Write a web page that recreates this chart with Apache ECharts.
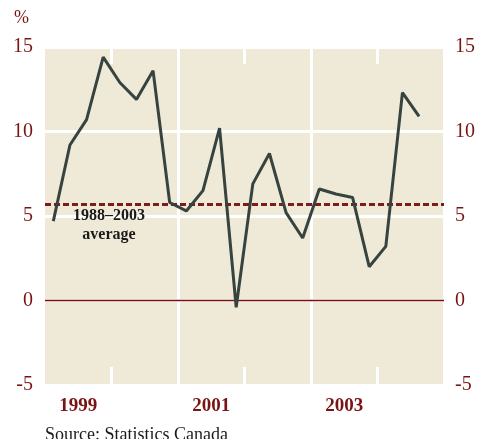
<!DOCTYPE html>
<html>
<head>
<meta charset="utf-8">
<script src="https://cdn.jsdelivr.net/npm/echarts@6/dist/echarts.min.js"></script>
<style>
  html, body { margin: 0; padding: 0; background: #fff; }
  #chart { width: 478px; height: 439px; }
</style>
</head>
<body>
<div id="chart"></div>
<script>
// quarterly points, 1999 Q1 .. 2004 Q3 (last quarter of 2004 left empty)
const years = ['1999', '2000', '2001', '2002', '2003', '2004'];
const quarters = [];
years.forEach((y) => { for (let q = 1; q <= 4; q++) quarters.push(y + ' Q' + q); });
const growth = [4.7, 9.2, 10.7, 14.4, 12.9, 11.9, 13.6, 5.8, 5.3, 6.5, 10.2, -0.4,
  6.9, 8.7, 5.2, 3.7, 6.6, 6.3, 6.1, 2.0, 3.2, 12.3, 10.9, null];
const average = 5.7;
const yTicks = [-5, 0, 5, 10, 15];

const red = '#7a1414';
const serif = '"Liberation Serif", "DejaVu Serif", serif';

const chart = echarts.init(document.getElementById('chart'));
chart.setOption({
  animation: false,
  grid: {
    left: 45, right: 31, top: 47, bottom: 54,
    show: true, backgroundColor: '#efe9d7', borderWidth: 0,
  },
  graphic: [
    { type: 'text', left: 14, top: 9, z: 100, style: { text: '%', fill: red, font: '18px ' + serif } },
    {
      type: 'text', left: 45, top: 426, z: 100,
      style: { text: 'Source: Statistics Canada', fill: '#1a1a1a', font: '18px ' + serif },
    },
    {
      type: 'text', x: 109, y: 206, z: 100,
      style: {
        text: '1988\u20132003\naverage', fill: '#1a1a1a', font: '600 16px ' + serif,
        align: 'center', lineHeight: 19,
      },
    },
  ],
  xAxis: [
    {
      // quarters, carries the data
      type: 'category', data: quarters, boundaryGap: true, show: false,
      axisLine: { onZero: false },
    },
    {
      // years, bottom: labels, full lines, short ticks
      type: 'category', data: years, boundaryGap: true, position: 'bottom',
      axisLine: { show: false, onZero: false },
      axisTick: {
        show: true, inside: true, length: 18, interval: (i) => i % 2 === 1,
        lineStyle: { color: '#fff', width: 3 },
      },
      axisLabel: {
        interval: 1, color: red, fontFamily: serif, fontSize: 19, fontWeight: 'bold', margin: 12,
      },
      splitLine: {
        show: true, interval: (i) => i === 2 || i === 4,
        lineStyle: { color: '#fff', width: 3 },
      },
    },
    {
      // years, top: short ticks only
      type: 'category', data: years, boundaryGap: true, position: 'top',
      axisLine: { show: false, onZero: false },
      axisTick: {
        show: true, inside: true, length: 17, interval: (i) => i % 2 === 1,
        lineStyle: { color: '#fff', width: 3 },
      },
      axisLabel: { show: false },
    },
  ],
  yAxis: [
    {
      type: 'value', min: yTicks[0], max: yTicks[yTicks.length - 1], interval: 5,
      position: 'left',
      axisLine: { show: false }, axisTick: { show: false },
      axisLabel: { color: red, fontFamily: serif, fontSize: 20, margin: 12 },
      splitLine: { show: true, lineStyle: { color: '#fff', width: 3 } },
    },
    {
      type: 'value', min: yTicks[0], max: yTicks[yTicks.length - 1], interval: 5,
      position: 'right',
      axisLine: { show: false }, axisTick: { show: false },
      axisLabel: { color: red, fontFamily: serif, fontSize: 20, margin: 11 },
      splitLine: { show: false },
    },
  ],
  series: [
    {
      type: 'line', xAxisIndex: 0, yAxisIndex: 0, data: growth,
      symbol: 'none', connectNulls: false,
      lineStyle: { color: '#37433f', width: 3 },
      markLine: {
        silent: true, symbol: 'none', label: { show: false },
        data: [
          { yAxis: 0, lineStyle: { color: '#7a0d0d', width: 1.3, type: 'solid' } },
          { yAxis: average, lineStyle: { color: '#7d1c1c', width: 3, type: [6, 3] } },
        ],
      },
      z: 5,
    },
  ],
});
</script>
</body>
</html>
